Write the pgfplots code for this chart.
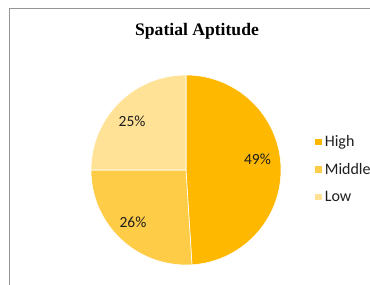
\documentclass[border=0pt]{standalone}
\usepackage{fontspec}
\setmainfont{Liberation Serif}
\newfontfamily\calibri{Carlito}
\usepackage{pgfplots}
\usepackage{pgfplotstable}
\pgfplotsset{compat=1.18}
\definecolor{cHigh}{RGB}{255,184,0}
\definecolor{cMid}{RGB}{255,204,72}
\definecolor{cLow}{RGB}{255,226,150}
\definecolor{frame}{RGB}{150,150,150}
\definecolor{txt}{RGB}{30,30,30}
\pgfplotstableread{
label value
High 49
Middle 26
Low 25
}\piedata
\pgfplotstablegetelem{0}{value}\of\piedata \let\vA\pgfplotsretval
\pgfplotstablegetelem{1}{value}\of\piedata \let\vB\pgfplotsretval
\pgfplotstablegetelem{2}{value}\of\piedata \let\vC\pgfplotsretval
\pgfmathsetmacro{\aA}{90-3.6*\vA}
\pgfmathsetmacro{\aB}{\aA-3.6*\vB}
\pgfmathsetmacro{\aC}{\aB-3.6*\vC}
\begin{document}
\begin{tikzpicture}[x=1bp,y=1bp]
\useasboundingbox (0,0) rectangle (370,285);
\draw[frame, line width=1.3bp] (9.5,0) -- (9.5,276.5) -- (370,276.5);
\node[font=\fontsize{17.6bp}{20bp}\selectfont\bfseries] at (197,254) {Spatial Aptitude};
\begin{axis}[
  at={(186bp,115bp)}, anchor=center,
  scale only axis, width=190bp, height=190bp,
  xmin=-1, xmax=1, ymin=-1, ymax=1,
  hide axis, clip=false,
  legend style={at={(1.175,0.505)}, anchor=west, draw=none, fill=none,
    font=\calibri\fontsize{16bp}{18bp}\selectfont, text=txt, inner sep=0pt,
    row sep=11bp, cells={anchor=west}},
  legend image code/.code={\fill[#1] (0bp,-3.8bp) rectangle (7.8bp,3.8bp);},
]
\addplot[fill=cHigh, draw=white, line width=0.6bp, domain=\aA:90, samples=120, smooth]
  ({cos(x)},{sin(x)}) -- (axis cs:0,0) -- cycle;
\addlegendentry{High}
\addplot[fill=cMid, draw=white, line width=0.6bp, domain=\aB:\aA, samples=80, smooth]
  ({cos(x)},{sin(x)}) -- (axis cs:0,0) -- cycle;
\addlegendentry{Middle}
\addplot[fill=cLow, draw=white, line width=0.6bp, domain=\aC:\aB, samples=80, smooth]
  ({cos(x)},{sin(x)}) -- (axis cs:0,0) -- cycle;
\addlegendentry{Low}
\node[text=txt, font=\calibri\fontsize{15.5bp}{17bp}\selectfont] at (axis cs:0.752,0.116) {\vA\%};
\node[text=txt, font=\calibri\fontsize{15.5bp}{17bp}\selectfont] at (axis cs:-0.558,-0.547) {\vB\%};
\node[text=txt, font=\calibri\fontsize{15.5bp}{17bp}\selectfont] at (axis cs:-0.568,0.516) {\vC\%};
\end{axis}
\end{tikzpicture}
\end{document}
